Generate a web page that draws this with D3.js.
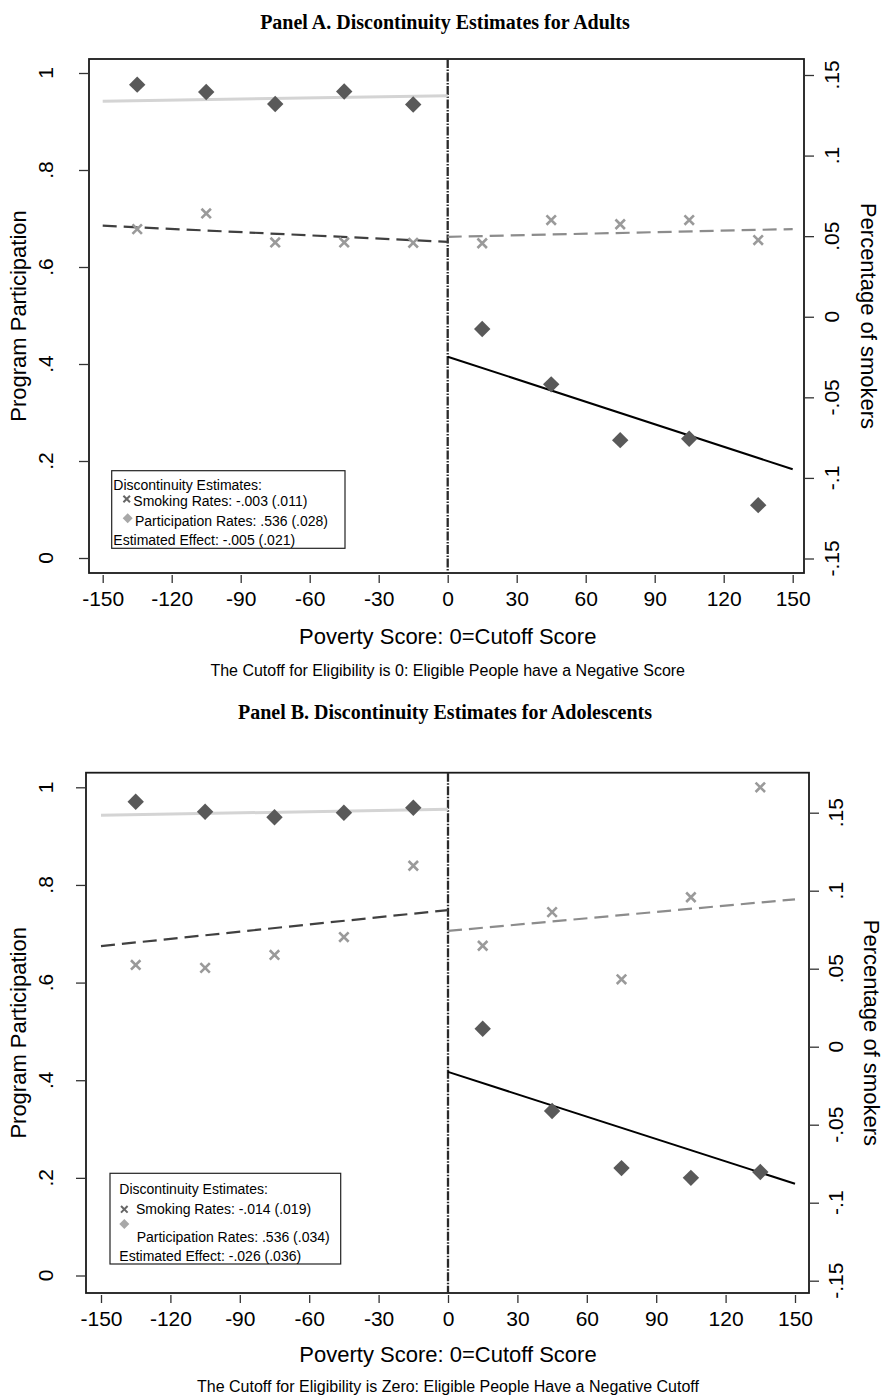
<!DOCTYPE html>
<html>
<head>
<meta charset="utf-8">
<script src="https://cdn.jsdelivr.net/npm/d3@7"></script>
<style>
  body { margin: 0; background: #fff; }
  text { font-family: "Liberation Sans", Arial, Helvetica, sans-serif; fill: #000; }
  .ttl { font-family: "Liberation Serif", "Times New Roman", serif; font-weight: bold; }
</style>
</head>
<body>
<svg id="chart" width="886" height="1399"></svg>
<script>
// ---- data ----
var bins = [-135, -105, -75, -45, -15, 15, 45, 75, 105, 135];
var xTicks = [-150, -120, -90, -60, -30, 0, 30, 60, 90, 120, 150];
var leftTicks = [0, 0.2, 0.4, 0.6, 0.8, 1];
var leftTickLabels = ["0", ".2", ".4", ".6", ".8", "1"];
var rightTicks = [-0.15, -0.1, -0.05, 0, 0.05, 0.1, 0.15];
var rightTickLabels = ["-.15", "-.1", "-.05", "0", ".05", ".1", ".15"];
var fitXLeft = [-150, 0];
var fitXRight = [0, 150];

// panel A: adults
var partA = [0.976, 0.961, 0.936, 0.962, 0.935, 0.472, 0.358, 0.243, 0.246, 0.109];
var smokeA = [0.0544, 0.0641, 0.0461, 0.0461, 0.0459, 0.0456, 0.0600, 0.0574, 0.0600, 0.0476];
var partFitLeftA = [0.942, 0.953];
var partFitRightA = [0.415, 0.183];
var smokeFitLeftA = [0.0565, 0.0465];
var smokeFitRightA = [0.0496, 0.0544];
var legendA = ["Discontinuity Estimates:", "Smoking Rates: -.003 (.011)",
               "Participation Rates: .536 (.028)", "Estimated Effect: -.005 (.021)"];

// panel B: adolescents
var partB = [0.9705, 0.950, 0.9385, 0.948, 0.958, 0.5055, 0.337, 0.220, 0.200, 0.212];
var smokeB = [0.0524, 0.0505, 0.0588, 0.0703, 0.116, 0.0647, 0.0863, 0.0432, 0.0958, 0.1663];
var partFitLeftB = [0.9426, 0.955];
var partFitRightB = [0.417, 0.188];
var smokeFitLeftB = [0.0645, 0.0876];
var smokeFitRightB = [0.0742, 0.0945];
var legendB = ["Discontinuity Estimates:", "Smoking Rates: -.014 (.019)",
               "Participation Rates: .536 (.034)", "Estimated Effect: -.026 (.036)"];

var svg = d3.select("#chart");

var diamond = d3.symbol().type(d3.symbolSquare);
var cross = d3.symbol().type(d3.symbolTimes);

function drawPanel(p) {
  var g = svg.append("g");
  var x = d3.scaleLinear().domain([-150, 150]).range(p.xr);
  var yL = d3.scaleLinear().domain([0, 1]).range(p.yl);
  var yR = d3.scaleLinear().domain([-0.15, 0.15]).range(p.yr);
  var f = p.frame; // [left, top, right, bottom]

  // title
  g.append("text").attr("class", "ttl")
    .attr("x", 445).attr("y", p.titleY)
    .attr("text-anchor", "middle").style("font-size", "20px")
    .text(p.title);

  // frame
  g.append("rect")
    .attr("x", f[0]).attr("y", f[1])
    .attr("width", f[2] - f[0]).attr("height", f[3] - f[1])
    .attr("fill", "none").attr("stroke", "#1a1a1a").attr("stroke-width", 1.8);

  // x axis (ticks sit a little below the frame)
  var xAxis = d3.axisBottom(x).tickValues(xTicks).tickSize(8).tickPadding(8)
    .tickFormat(d3.format("d"));
  var xg = g.append("g").attr("transform", "translate(0," + (f[3] + 2) + ")").call(xAxis);
  xg.select(".domain").remove();
  xg.selectAll("line").attr("stroke", "#333").attr("stroke-width", 1.3);
  xg.selectAll("text").style("font-size", "21px").attr("font-family", null)
    .text(function(d) { return d < 0 ? "-" + (-d) : d; });

  // left axis
  var lg = g.append("g").attr("transform", "translate(" + f[0] + ",0)")
    .call(d3.axisLeft(yL).tickValues(leftTicks).tickSize(10).tickFormat(""));
  lg.select(".domain").remove();
  lg.selectAll("line").attr("stroke", "#333").attr("stroke-width", 1.3);
  g.selectAll(".ltl").data(leftTicks).enter().append("text")
    .attr("transform", function(d) { return "translate(" + p.leftLabX + "," + yL(d) + ") rotate(-90)"; })
    .attr("text-anchor", "middle").attr("dy", "0.36em").style("font-size", "21px")
    .text(function(d, i) { return leftTickLabels[i]; });

  // right axis
  var rg = g.append("g").attr("transform", "translate(" + f[2] + ",0)")
    .call(d3.axisRight(yR).tickValues(rightTicks).tickSize(10).tickFormat(""));
  rg.select(".domain").remove();
  rg.selectAll("line").attr("stroke", "#333").attr("stroke-width", 1.3);
  g.selectAll(".rtl").data(rightTicks).enter().append("text")
    .attr("transform", function(d) { return "translate(" + p.rightLabX + "," + yR(d) + ") rotate(-90)"; })
    .attr("text-anchor", "middle").attr("dy", "0.36em").style("font-size", "21px")
    .text(function(d, i) { return rightTickLabels[i]; });

  // axis titles
  var midY = (f[1] + f[3]) / 2;
  g.append("text")
    .attr("transform", "translate(" + p.leftTitleX + "," + midY + ") rotate(-90)")
    .attr("text-anchor", "middle").attr("dy", "0.36em").style("font-size", "22px")
    .text("Program Participation");
  g.append("text")
    .attr("transform", "translate(" + p.rightTitleX + "," + midY + ") rotate(90)")
    .attr("text-anchor", "middle").attr("dy", "0.36em").style("font-size", "22px")
    .text("Percentage of smokers");
  g.append("text")
    .attr("x", x(0)).attr("y", p.xTitleY)
    .attr("text-anchor", "middle").style("font-size", "22px")
    .text("Poverty Score: 0=Cutoff Score");
  g.append("text")
    .attr("x", x(0)).attr("y", p.noteY)
    .attr("text-anchor", "middle").style("font-size", "16px")
    .text(p.note);

  // cutoff line
  g.append("line")
    .attr("x1", x(0)).attr("x2", x(0)).attr("y1", f[1]).attr("y2", f[3])
    .attr("stroke", "#2a2a2a").attr("stroke-width", 2.3)
    .attr("stroke-dasharray", "9,1.5,1.5,1.5");

  // fitted lines
  var line = d3.line();
  function fit(xs, vs, scale, color, width, dash) {
    g.append("path")
      .datum(xs.map(function(v, i) { return [x(v), scale(vs[i])]; }))
      .attr("d", line).attr("fill", "none")
      .attr("stroke", color).attr("stroke-width", width)
      .attr("stroke-dasharray", dash);
  }
  fit(fitXLeft, p.partFitLeft, yL, "#d4d4d4", 3, null);
  fit(fitXRight, p.partFitRight, yL, "#000", 2, null);
  fit(fitXLeft, p.smokeFitLeft, yR, "#404040", 2.2, "14,7");
  fit(fitXRight, p.smokeFitRight, yR, "#8c8c8c", 2.2, "14,7");

  // participation markers
  g.selectAll(".dia").data(p.part).enter().append("path")
    .attr("d", diamond.size(135))
    .attr("transform", function(d, i) { return "translate(" + x(bins[i]) + "," + yL(d) + ") rotate(45)"; })
    .attr("fill", "#595959");

  // smoking markers
  g.selectAll(".crs").data(p.smoke).enter().append("path")
    .attr("d", cross.size(60))
    .attr("transform", function(d, i) { return "translate(" + x(bins[i]) + "," + yR(d) + ")"; })
    .attr("fill", "none").attr("stroke", "#9a9a9a").attr("stroke-width", 2.6);

  // legend
  var lb = p.legBox;
  g.append("rect")
    .attr("x", lb[0]).attr("y", lb[1]).attr("width", lb[2] - lb[0]).attr("height", lb[3] - lb[1])
    .attr("fill", "#fff").attr("stroke", "#222").attr("stroke-width", 1.2);
  g.selectAll(".leg").data(p.legend).enter().append("text")
    .attr("x", function(d, i) { return p.legX[i]; })
    .attr("y", function(d, i) { return p.legY[i]; })
    .attr("dy", "0.36em").style("font-size", "14px")
    .text(function(d) { return d; });
  g.append("path").attr("d", cross.size(30))
    .attr("transform", "translate(" + p.legMk[0][0] + "," + p.legMk[0][1] + ")")
    .attr("fill", "none").attr("stroke", "#666").attr("stroke-width", 2);
  g.append("path").attr("d", diamond.size(50))
    .attr("transform", "translate(" + p.legMk[1][0] + "," + p.legMk[1][1] + ") rotate(45)")
    .attr("fill", "#a8a8a8");
}

drawPanel({
  title: "Panel A. Discontinuity Estimates for Adults",
  note: "The Cutoff for Eligibility is 0: Eligible People have a Negative Score",
  titleY: 29, xTitleY: 644, noteY: 676,
  frame: [89, 59, 804, 573],
  xr: [102.7, 792.7], yl: [558, 73], yr: [558.5, 75],
  leftLabX: 45, rightLabX: 831, leftTitleX: 18, rightTitleX: 869,
  part: partA, smoke: smokeA,
  partFitLeft: partFitLeftA, partFitRight: partFitRightA,
  smokeFitLeft: smokeFitLeftA, smokeFitRight: smokeFitRightA,
  legend: legendA,
  legBox: [111.7, 470.7, 345, 548.3],
  legX: [113.3, 133.3, 135, 113.3],
  legY: [485, 500.7, 520.7, 540],
  legMk: [[126.7, 499], [127.7, 518.3]]
});

drawPanel({
  title: "Panel B. Discontinuity Estimates for Adolescents",
  note: "The Cutoff for Eligibility is Zero: Eligible People Have a Negative Cutoff",
  titleY: 719, xTitleY: 1362, noteY: 1392,
  frame: [86, 772.7, 809, 1293],
  xr: [101, 795], yl: [1275.5, 787.3], yr: [1280.7, 812.7],
  leftLabX: 45, rightLabX: 835, leftTitleX: 18, rightTitleX: 872,
  part: partB, smoke: smokeB,
  partFitLeft: partFitLeftB, partFitRight: partFitRightB,
  smokeFitLeft: smokeFitLeftB, smokeFitRight: smokeFitRightB,
  legend: legendB,
  legBox: [110, 1173.3, 340.7, 1264],
  legX: [119.3, 136, 136.7, 119.3],
  legY: [1189.3, 1209.3, 1237.3, 1255.7],
  legMk: [[124.3, 1209.3], [124.3, 1224]]
});
</script>
</body>
</html>
